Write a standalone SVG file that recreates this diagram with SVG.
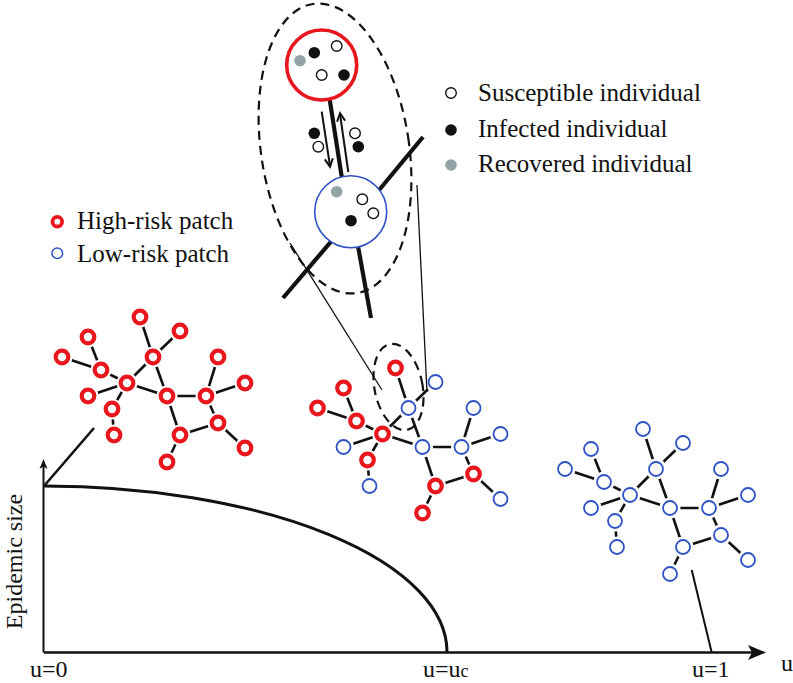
<svg xmlns="http://www.w3.org/2000/svg" xmlns:xlink="http://www.w3.org/1999/xlink" width="793" height="683" viewBox="0 0 793 683">
<style>
text{font-family:"Liberation Serif","Times New Roman",serif;fill:#111;font-size:25px}
.e line{stroke:#111;stroke-width:2.6}
.halo{fill:#fff;stroke:none}
.hr{fill:#fff;stroke:#e8161d;stroke-width:4.2}
.lr{fill:#fff;stroke:#2e52c6;stroke-width:1.8}
.thick{stroke:#111;stroke-width:4.2;fill:none}
.thin{stroke:#111;stroke-width:1.3;fill:none}
.dash{fill:none;stroke:#111;stroke-width:2.2;stroke-dasharray:9 6}
.sus{fill:#fff;stroke:#111;stroke-width:1.4}
.inf{fill:#111}
.rec{fill:#93a4a6}
.arr{stroke:#111;stroke-width:2;fill:none}
.axl{font-size:24px}
</style>
<defs>
<g id="net-edges" class="e">
<line x1="140" y1="317" x2="153" y2="357"/>
<line x1="180" y1="331" x2="153" y2="357"/>
<line x1="88" y1="337" x2="101" y2="370"/>
<line x1="62" y1="357" x2="101" y2="370"/>
<line x1="101" y1="370" x2="127" y2="383"/>
<line x1="153" y1="357" x2="127" y2="383"/>
<line x1="153" y1="357" x2="167" y2="396"/>
<line x1="127" y1="383" x2="167" y2="396"/>
<line x1="88" y1="396" x2="127" y2="383"/>
<line x1="127" y1="383" x2="112" y2="409"/>
<line x1="112" y1="409" x2="114" y2="435"/>
<line x1="167" y1="396" x2="206" y2="396"/>
<line x1="206" y1="396" x2="218" y2="357"/>
<line x1="206" y1="396" x2="245" y2="383"/>
<line x1="206" y1="396" x2="218" y2="423"/>
<line x1="167" y1="396" x2="180" y2="435"/>
<line x1="180" y1="435" x2="218" y2="423"/>
<line x1="218" y1="423" x2="245" y2="448"/>
<line x1="180" y1="435" x2="167" y2="462"/>
</g>
</defs>

<!-- axes and curve -->
<g id="axes">
<line x1="44" y1="652.5" x2="756" y2="652.5" stroke="#111" stroke-width="2.5"/>
<path d="M766,652.5 L748,645 L752,652.5 L748,660 Z" fill="#111"/>
<line x1="43.5" y1="652.5" x2="43.5" y2="466" stroke="#111" stroke-width="2"/>
<path d="M43.5,459 L39.5,469 L43.5,466.5 L47.5,469 Z" fill="#111"/>
<path d="M44,486 A403,166 0 0 1 447,652" fill="none" stroke="#111" stroke-width="3"/>
<text class="axl" x="22" y="561.5" text-anchor="middle" transform="rotate(-90 22 561.5)">Epidemic size</text>
<text class="axl" x="30" y="677">u=0</text>
<text class="axl" x="423" y="677">u=u<tspan font-size="18">c</tspan></text>
<text class="axl" x="692" y="677">u=1</text>
<text class="axl" x="781" y="671">u</text>
</g>

<!-- connectors -->
<g id="connectors">
<use xlink:href="#net-edges"/>
<use xlink:href="#net-edges" transform="translate(255.5,51)"/>
<use xlink:href="#net-edges" transform="translate(503,112)"/>
<line x1="44" y1="486" x2="94" y2="428" stroke="#111" stroke-width="2.6"/>
<line x1="691.7" y1="570" x2="711.7" y2="652.5" stroke="#111" stroke-width="2"/>
</g>

<!-- left network: all high-risk -->
<g id="net-left">
<g id="L0"><circle class="halo" cx="140" cy="317" r="10.5"/><circle class="hr" cx="140" cy="317" r="6.3"/></g>
<g id="L1"><circle class="halo" cx="180" cy="331" r="10.5"/><circle class="hr" cx="180" cy="331" r="6.3"/></g>
<g id="L2"><circle class="halo" cx="88" cy="337" r="10.5"/><circle class="hr" cx="88" cy="337" r="6.3"/></g>
<g id="L3"><circle class="halo" cx="62" cy="357" r="10.5"/><circle class="hr" cx="62" cy="357" r="6.3"/></g>
<g id="L4"><circle class="halo" cx="153" cy="357" r="10.5"/><circle class="hr" cx="153" cy="357" r="6.3"/></g>
<g id="L5"><circle class="halo" cx="101" cy="370" r="10.5"/><circle class="hr" cx="101" cy="370" r="6.3"/></g>
<g id="L6"><circle class="halo" cx="218" cy="357" r="10.5"/><circle class="hr" cx="218" cy="357" r="6.3"/></g>
<g id="L7"><circle class="halo" cx="127" cy="383" r="10.5"/><circle class="hr" cx="127" cy="383" r="6.3"/></g>
<g id="L8"><circle class="halo" cx="245" cy="383" r="10.5"/><circle class="hr" cx="245" cy="383" r="6.3"/></g>
<g id="L9"><circle class="halo" cx="88" cy="396" r="10.5"/><circle class="hr" cx="88" cy="396" r="6.3"/></g>
<g id="L10"><circle class="halo" cx="167" cy="396" r="10.5"/><circle class="hr" cx="167" cy="396" r="6.3"/></g>
<g id="L11"><circle class="halo" cx="206" cy="396" r="10.5"/><circle class="hr" cx="206" cy="396" r="6.3"/></g>
<g id="L12"><circle class="halo" cx="112" cy="409" r="10.5"/><circle class="hr" cx="112" cy="409" r="6.3"/></g>
<g id="L13"><circle class="halo" cx="218" cy="423" r="10.5"/><circle class="hr" cx="218" cy="423" r="6.3"/></g>
<g id="L14"><circle class="halo" cx="114" cy="435" r="10.5"/><circle class="hr" cx="114" cy="435" r="6.3"/></g>
<g id="L15"><circle class="halo" cx="180" cy="435" r="10.5"/><circle class="hr" cx="180" cy="435" r="6.3"/></g>
<g id="L16"><circle class="halo" cx="245" cy="448" r="10.5"/><circle class="hr" cx="245" cy="448" r="6.3"/></g>
<g id="L17"><circle class="halo" cx="167" cy="462" r="10.5"/><circle class="hr" cx="167" cy="462" r="6.3"/></g>
</g>

<!-- middle network: mixed -->
<g id="net-mid" transform="translate(255.5,51)">
<g id="M0"><circle class="halo" cx="140" cy="317" r="10.5"/><circle class="hr" cx="140" cy="317" r="6.3"/></g>
<g id="M1"><circle class="halo" cx="180" cy="331" r="10.5"/><circle class="lr" cx="180" cy="331" r="7"/></g>
<g id="M2"><circle class="halo" cx="88" cy="337" r="10.5"/><circle class="hr" cx="88" cy="337" r="6.3"/></g>
<g id="M3"><circle class="halo" cx="62" cy="357" r="10.5"/><circle class="hr" cx="62" cy="357" r="6.3"/></g>
<g id="M4"><circle class="halo" cx="153" cy="357" r="10.5"/><circle class="lr" cx="153" cy="357" r="7"/></g>
<g id="M5"><circle class="halo" cx="101" cy="370" r="10.5"/><circle class="hr" cx="101" cy="370" r="6.3"/></g>
<g id="M6"><circle class="halo" cx="218" cy="357" r="10.5"/><circle class="lr" cx="218" cy="357" r="7"/></g>
<g id="M7"><circle class="halo" cx="127" cy="383" r="10.5"/><circle class="hr" cx="127" cy="383" r="6.3"/></g>
<g id="M8"><circle class="halo" cx="245" cy="383" r="10.5"/><circle class="lr" cx="245" cy="383" r="7"/></g>
<g id="M9"><circle class="halo" cx="88" cy="396" r="10.5"/><circle class="lr" cx="88" cy="396" r="7"/></g>
<g id="M10"><circle class="halo" cx="167" cy="396" r="10.5"/><circle class="lr" cx="167" cy="396" r="7"/></g>
<g id="M11"><circle class="halo" cx="206" cy="396" r="10.5"/><circle class="lr" cx="206" cy="396" r="7"/></g>
<g id="M12"><circle class="halo" cx="112" cy="409" r="10.5"/><circle class="hr" cx="112" cy="409" r="6.3"/></g>
<g id="M13"><circle class="halo" cx="218" cy="423" r="10.5"/><circle class="hr" cx="218" cy="423" r="6.3"/></g>
<g id="M14"><circle class="halo" cx="114" cy="435" r="10.5"/><circle class="lr" cx="114" cy="435" r="7"/></g>
<g id="M15"><circle class="halo" cx="180" cy="435" r="10.5"/><circle class="hr" cx="180" cy="435" r="6.3"/></g>
<g id="M16"><circle class="halo" cx="245" cy="448" r="10.5"/><circle class="lr" cx="245" cy="448" r="7"/></g>
<g id="M17"><circle class="halo" cx="167" cy="462" r="10.5"/><circle class="hr" cx="167" cy="462" r="6.3"/></g>
</g>

<!-- right network: all low-risk -->
<g id="net-right" transform="translate(503,112)">
<g id="R0"><circle class="halo" cx="140" cy="317" r="10.5"/><circle class="lr" cx="140" cy="317" r="7"/></g>
<g id="R1"><circle class="halo" cx="180" cy="331" r="10.5"/><circle class="lr" cx="180" cy="331" r="7"/></g>
<g id="R2"><circle class="halo" cx="88" cy="337" r="10.5"/><circle class="lr" cx="88" cy="337" r="7"/></g>
<g id="R3"><circle class="halo" cx="62" cy="357" r="10.5"/><circle class="lr" cx="62" cy="357" r="7"/></g>
<g id="R4"><circle class="halo" cx="153" cy="357" r="10.5"/><circle class="lr" cx="153" cy="357" r="7"/></g>
<g id="R5"><circle class="halo" cx="101" cy="370" r="10.5"/><circle class="lr" cx="101" cy="370" r="7"/></g>
<g id="R6"><circle class="halo" cx="218" cy="357" r="10.5"/><circle class="lr" cx="218" cy="357" r="7"/></g>
<g id="R7"><circle class="halo" cx="127" cy="383" r="10.5"/><circle class="lr" cx="127" cy="383" r="7"/></g>
<g id="R8"><circle class="halo" cx="245" cy="383" r="10.5"/><circle class="lr" cx="245" cy="383" r="7"/></g>
<g id="R9"><circle class="halo" cx="88" cy="396" r="10.5"/><circle class="lr" cx="88" cy="396" r="7"/></g>
<g id="R10"><circle class="halo" cx="167" cy="396" r="10.5"/><circle class="lr" cx="167" cy="396" r="7"/></g>
<g id="R11"><circle class="halo" cx="206" cy="396" r="10.5"/><circle class="lr" cx="206" cy="396" r="7"/></g>
<g id="R12"><circle class="halo" cx="112" cy="409" r="10.5"/><circle class="lr" cx="112" cy="409" r="7"/></g>
<g id="R13"><circle class="halo" cx="218" cy="423" r="10.5"/><circle class="lr" cx="218" cy="423" r="7"/></g>
<g id="R14"><circle class="halo" cx="114" cy="435" r="10.5"/><circle class="lr" cx="114" cy="435" r="7"/></g>
<g id="R15"><circle class="halo" cx="180" cy="435" r="10.5"/><circle class="lr" cx="180" cy="435" r="7"/></g>
<g id="R16"><circle class="halo" cx="245" cy="448" r="10.5"/><circle class="lr" cx="245" cy="448" r="7"/></g>
<g id="R17"><circle class="halo" cx="167" cy="462" r="10.5"/><circle class="lr" cx="167" cy="462" r="7"/></g>
</g>

<!-- zoom-in callout -->
<g id="callout">
<ellipse class="dash" cx="398.5" cy="387" rx="24" ry="43.8" transform="rotate(-11.2 398.5 387)" stroke-dasharray="7 5"/>
<line class="thin" x1="290" y1="243" x2="382" y2="390"/>
<line class="thin" x1="417" y1="185" x2="427" y2="392"/>
<ellipse class="dash" cx="335" cy="148.5" rx="74" ry="146.2" transform="rotate(-8.66 335 148.5)"/>
</g>

<!-- inset: two patches with movement -->
<g id="inset">
<line class="thick" x1="329" y1="95" x2="343" y2="185"/>
<line class="thick" x1="370" y1="201" x2="423" y2="137"/>
<line class="thick" x1="340" y1="231" x2="283" y2="298"/>
<line class="thick" x1="356" y1="235" x2="371" y2="318"/>
<line class="arr" x1="321.7" y1="111.7" x2="330" y2="166"/>
<polyline class="arr" points="324.8,159.4 330,166.7 332.8,158.2"/>
<line class="arr" x1="348.3" y1="172" x2="340" y2="114"/>
<polyline class="arr" points="337.1,121.8 340,113.3 345.1,120.6"/>
<circle class="inf" cx="314.3" cy="133.3" r="5.8"/>
<circle class="sus" cx="318.3" cy="146.7" r="5.3"/>
<circle class="sus" cx="355" cy="133.3" r="5.3"/>
<circle class="inf" cx="358.3" cy="146.7" r="5.8"/>
</g>
<g id="patch-high">
<circle cx="321.7" cy="65" r="35" fill="#fff" stroke="#e8161d" stroke-width="3.6"/>
<circle class="rec" cx="300" cy="60.7" r="5.8"/>
<circle class="inf" cx="314.3" cy="52.7" r="5.8"/>
<circle class="sus" cx="336.7" cy="46" r="5.3"/>
<circle class="sus" cx="321.7" cy="75" r="5.3"/>
<circle class="inf" cx="344" cy="75" r="5.8"/>
</g>
<g id="patch-low">
<circle cx="350.7" cy="211.7" r="36" fill="#fff" stroke="#2e52c6" stroke-width="1.6"/>
<circle class="rec" cx="336.7" cy="191.7" r="5.8"/>
<circle class="sus" cx="362.3" cy="199.3" r="5.3"/>
<circle class="sus" cx="373.3" cy="213.3" r="5.3"/>
<circle class="inf" cx="351" cy="220.7" r="5.8"/>
</g>

<!-- legends -->
<g id="legend-individuals">
<circle class="sus" cx="451" cy="93" r="5.3"/>
<text x="478" y="101">Susceptible individual</text>
<circle class="inf" cx="451" cy="130" r="5.8"/>
<text x="478" y="137">Infected individual</text>
<circle class="rec" cx="451" cy="165" r="5.8"/>
<text x="478" y="172">Recovered individual</text>
</g>
<g id="legend-patches">
<circle cx="57.3" cy="221.7" r="4.8" fill="#fff" stroke="#e8161d" stroke-width="3.8"/>
<text x="77" y="229">High-risk patch</text>
<circle cx="57.3" cy="253.3" r="5.3" fill="#fff" stroke="#2e52c6" stroke-width="1.5"/>
<text x="77" y="262">Low-risk patch</text>
</g>
</svg>
